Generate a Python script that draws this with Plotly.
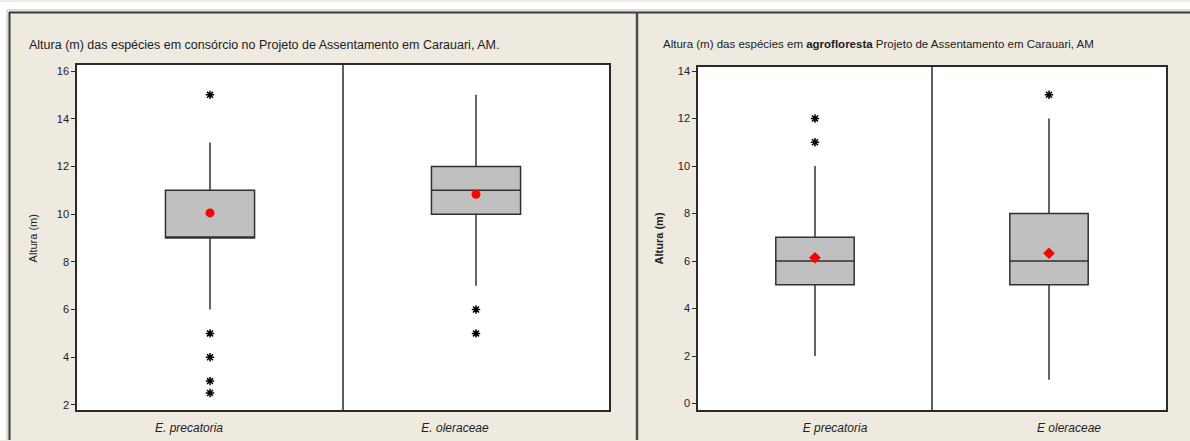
import plotly.graph_objects as go

# ---- data ----
species = ["E. precatoria", "E. oleraceae"]
species_right = ["E precatoria", "E oleraceae"]

# Consórcio (left panel)
cons_q1 = [9, 10]
cons_median = [9, 11]
cons_q3 = [11, 12]
cons_low = [6, 7]
cons_high = [13, 15]
cons_mean = [10.05, 10.83]
cons_out_prec = [15, 5, 4, 3, 2.5]
cons_out_oler = [6, 5]

# Agrofloresta (right panel)
agro_q1 = [5, 5]
agro_median = [6, 6]
agro_q3 = [7, 8]
agro_low = [2, 1]
agro_high = [10, 12]
agro_mean = [6.14, 6.33]
agro_out_prec = [12, 11]
agro_out_oler = [13]

left_ticks = [2, 4, 6, 8, 10, 12, 14, 16]
right_ticks = [0, 2, 4, 6, 8, 10, 12, 14]

W, H = 1190, 441
BEIGE = "#EEEAE0"
FRAME = "#2a2a2a"
BOXFILL = "#C0C0C0"


def px_x(p):
    return p / W


def px_y(p):
    return 1 - p / H


fig = go.Figure()

box_style = dict(
    boxpoints=False,
    fillcolor=BOXFILL,
    line=dict(color="#303030", width=1.5),
    whiskerwidth=0,
    width=0.335,
    showlegend=False,
    hoverinfo="skip",
)

# left panel boxes
fig.add_trace(go.Box(
    x=species, q1=cons_q1, median=cons_median, q3=cons_q3,
    lowerfence=cons_low, upperfence=cons_high,
    xaxis="x", yaxis="y", **box_style))
# right panel boxes
fig.add_trace(go.Box(
    x=species_right, q1=agro_q1, median=agro_median, q3=agro_q3,
    lowerfence=agro_low, upperfence=agro_high,
    xaxis="x2", yaxis="y2", **box_style))

star = dict(symbol="asterisk-open", size=7, color="black",
            line=dict(color="black", width=1.5))

# outliers
fig.add_trace(go.Scatter(
    x=[species[0]] * len(cons_out_prec) + [species[1]] * len(cons_out_oler),
    y=cons_out_prec + cons_out_oler, mode="markers", marker=star,
    xaxis="x", yaxis="y", showlegend=False, hoverinfo="skip"))
fig.add_trace(go.Scatter(
    x=[species_right[0]] * len(agro_out_prec) + [species_right[1]] * len(agro_out_oler),
    y=agro_out_prec + agro_out_oler, mode="markers", marker=star,
    xaxis="x2", yaxis="y2", showlegend=False, hoverinfo="skip"))

# means
fig.add_trace(go.Scatter(
    x=species, y=cons_mean, mode="markers",
    marker=dict(symbol="circle", size=9, color="#FF0000"),
    xaxis="x", yaxis="y", showlegend=False, hoverinfo="skip"))
fig.add_trace(go.Scatter(
    x=species_right, y=agro_mean, mode="markers",
    marker=dict(symbol="diamond", size=9, color="#FF0000"),
    xaxis="x2", yaxis="y2", showlegend=False, hoverinfo="skip"))

tickfont = dict(family="Liberation Sans", size=11, color="#222222")
xlabfont = dict(family="Liberation Sans", size=12, color="#222222")

common_x = dict(
    type="category", range=[-0.5, 1.5], showgrid=False, zeroline=False,
    showline=True, linecolor=FRAME, linewidth=1.5, mirror=True,
    ticks="", tickfont=xlabfont, fixedrange=True,
)
common_y = dict(
    showgrid=False, zeroline=False, showline=True, linecolor=FRAME,
    linewidth=1.5, mirror=True, ticks="outside", ticklen=4, tickwidth=1.2,
    tickcolor=FRAME, tickfont=tickfont, fixedrange=True,
)

fig.update_layout(
    width=W, height=H,
    margin=dict(l=0, r=0, t=0, b=0),
    paper_bgcolor=BEIGE,
    plot_bgcolor="white",
    xaxis=dict(domain=[px_x(77), px_x(609)], anchor="y",
               ticklabelshift=-21, ticklabelstandoff=6,
               tickvals=species, ticktext=["<i>E. precatoria</i>", "<i>E. oleraceae</i>"],
               **common_x),
    yaxis=dict(domain=[px_y(411), px_y(63)], anchor="x",
               range=[1.78, 16.27], tickvals=left_ticks, **common_y),
    xaxis2=dict(domain=[px_x(698), px_x(1166)], anchor="y2",
                ticklabelshift=20, ticklabelstandoff=6,
                tickvals=species_right,
                ticktext=["<i>E precatoria</i>", "<i>E oleraceae</i>"],
                **common_x),
    yaxis2=dict(domain=[px_y(411), px_y(65)], anchor="x2",
                range=[-0.28, 14.19], tickvals=right_ticks, **common_y),
)

shapes = [
    # white strip along the top and left edges
    dict(type="rect", xref="paper", yref="paper", x0=0, x1=1,
         y0=px_y(9), y1=1, fillcolor="white", line=dict(width=0), layer="below"),
    dict(type="rect", xref="paper", yref="paper", x0=0, x1=px_x(8),
         y0=0, y1=1, fillcolor="white", line=dict(width=0), layer="below"),
    # outer frame lines
    dict(type="line", xref="paper", yref="paper", x0=px_x(7), x1=1,
         y0=px_y(8), y1=px_y(8), line=dict(color="#BBBBBB", width=1)),
    dict(type="line", xref="paper", yref="paper", x0=px_x(7), x1=px_x(7),
         y0=0, y1=px_y(8), line=dict(color="#BBBBBB", width=1)),
    dict(type="line", xref="paper", yref="paper", x0=px_x(9), x1=1,
         y0=px_y(10.5), y1=px_y(10.5), line=dict(color="#3a3a3a", width=2)),
    dict(type="line", xref="paper", yref="paper", x0=px_x(9.5), x1=px_x(9.5),
         y0=0, y1=px_y(10), line=dict(color="#3a3a3a", width=2)),
    # divider between the two panels
    dict(type="line", xref="paper", yref="paper", x0=px_x(637), x1=px_x(637),
         y0=0, y1=px_y(10), line=dict(color="#4a4a4a", width=2.5)),
    # separators between species inside each plot
    dict(type="line", xref="x", yref="y domain", x0=0.5, x1=0.5, y0=0, y1=1,
         line=dict(color=FRAME, width=1.5)),
    dict(type="line", xref="x2", yref="y2 domain", x0=0.5, x1=0.5, y0=0, y1=1,
         line=dict(color=FRAME, width=1.5)),
]
fig.update_layout(shapes=shapes)

annotations = [
    dict(text="Altura (m) das espécies em consórcio no Projeto de Assentamento em Carauari, AM.",
         xref="paper", yref="paper", x=px_x(27), y=px_y(43),
         xanchor="left", yanchor="middle", showarrow=False,
         font=dict(family="Liberation Sans", size=12.5, color="#222222")),
    dict(text="Altura (m) das espécies em <b>agrofloresta</b> Projeto de Assentamento em Carauari, AM",
         xref="paper", yref="paper", x=px_x(661), y=px_y(42),
         xanchor="left", yanchor="middle", showarrow=False,
         font=dict(family="Liberation Sans", size=11.5, color="#222222")),
    dict(text="Altura (m)", xref="paper", yref="paper", x=px_x(33), y=px_y(238),
         xanchor="center", yanchor="middle", textangle=-90, showarrow=False,
         font=dict(family="Liberation Sans", size=11, color="#222222")),
    dict(text="<b>Altura (m)</b>", xref="paper", yref="paper", x=px_x(659), y=px_y(238),
         xanchor="center", yanchor="middle", textangle=-90, showarrow=False,
         font=dict(family="Liberation Sans", size=11, color="#222222")),
]
fig.update_layout(annotations=annotations)

fig.write_html("out.html")
